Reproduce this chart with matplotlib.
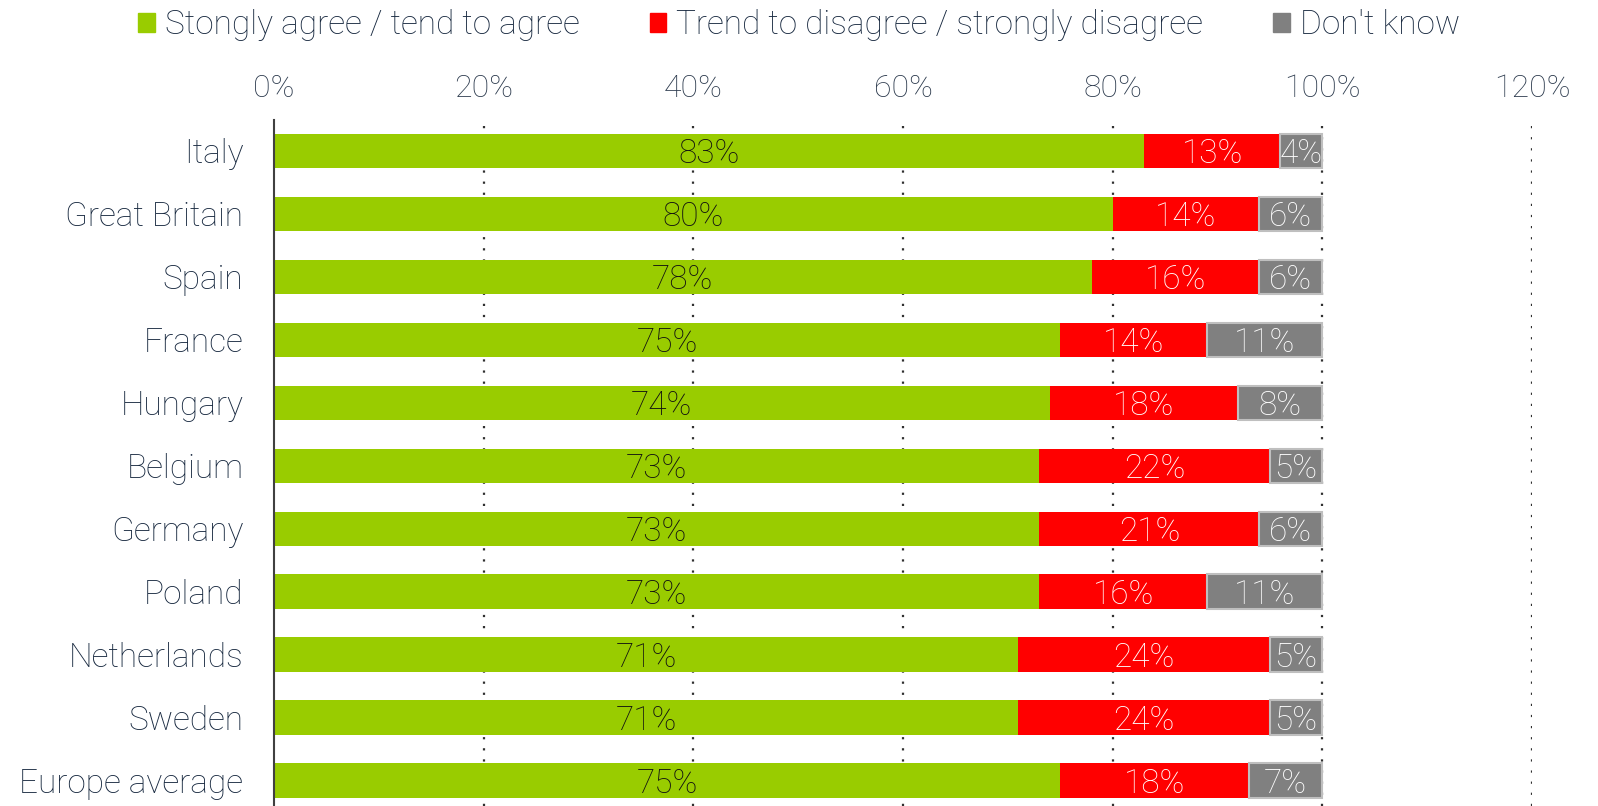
import numpy as np
import matplotlib
matplotlib.use("Agg")
import matplotlib.pyplot as plt
from matplotlib.patches import Patch

countries = ["Italy", "Great Britain", "Spain", "France", "Hungary", "Belgium",
             "Germany", "Poland", "Netherlands", "Sweden", "Europe average"]
agree = [83, 80, 78, 75, 74, 73, 73, 73, 71, 71, 75]
disagree = [13, 14, 16, 14, 18, 22, 21, 16, 24, 24, 18]
dont_know = [4, 6, 6, 11, 8, 5, 6, 11, 5, 5, 7]
series_names = ["Stongly agree / tend to agree",
                "Trend to disagree / strongly disagree",
                "Don't know"]

GREEN, RED, GREY = "#99cc00", "#ff0000", "#808080"
NAVY = "#17283f"

plt.rcParams["font.family"] = ["Roboto", "DejaVu Sans"]
plt.rcParams["font.weight"] = "light"

fig = plt.figure(figsize=(15.98, 8.06), dpi=100)
ax = fig.add_axes([274 / 1598, 0, (1532 - 274) / 1598, (806 - 120) / 806])

y = np.arange(len(countries))
a = np.array(agree) / 100
d = np.array(disagree) / 100
k = np.array(dont_know) / 100
h = 0.55

ax.barh(y, a, h, color=GREEN, zorder=2)
ax.barh(y, d, h, left=a, color=RED, zorder=2)
ax.barh(y, k, h, left=a + d, color=GREY, edgecolor="#bfbfbf", linewidth=1.5, zorder=2)

for i in range(len(countries)):
    ax.text(a[i] / 2, y[i], f"{agree[i]}%", ha="center", va="center_baseline",
            fontsize=24, color="#111111", zorder=3)
    ax.text(a[i] + d[i] / 2, y[i], f"{disagree[i]}%", ha="center", va="center_baseline",
            fontsize=24, color="white", zorder=3)
    ax.text(a[i] + d[i] + k[i] / 2, y[i], f"{dont_know[i]}%", ha="center", va="center_baseline",
            fontsize=24, color="white", zorder=3)

ax.set_xlim(0, 1.2)
ax.set_ylim(len(countries) - 1 + 0.4, -0.49)
ticks = np.arange(0, 1.21, 0.2)
ax.set_xticks(ticks)
ax.set_xticklabels([f"{int(round(t * 100))}%" for t in ticks])
ax.xaxis.tick_top()
ax.tick_params(axis="x", length=0, pad=12, labelsize=23, labelcolor="#2c3a4d")
ax.set_yticks(y)
ax.set_yticklabels(countries)
ax.tick_params(axis="y", length=0, pad=22, labelsize=24, labelcolor=NAVY)

for t in ticks[1:]:
    ax.axvline(t, color="#303030", linestyle=(0, (1, 4)), linewidth=1.6, zorder=1)

for s in ["top", "right", "bottom"]:
    ax.spines[s].set_visible(False)
ax.spines["left"].set_color("#404040")
ax.spines["left"].set_linewidth(1.5)

handles = [Patch(color=c) for c in (GREEN, RED, GREY)]
fig.legend(handles, series_names, loc="center", bbox_to_anchor=(0.5, 1 - 25 / 806),
           ncol=3, frameon=False, fontsize=24, labelcolor=NAVY,
           handlelength=0.5, handleheight=0.5, handletextpad=0.3, columnspacing=2.1)

fig.savefig("out.png", dpi=100)
